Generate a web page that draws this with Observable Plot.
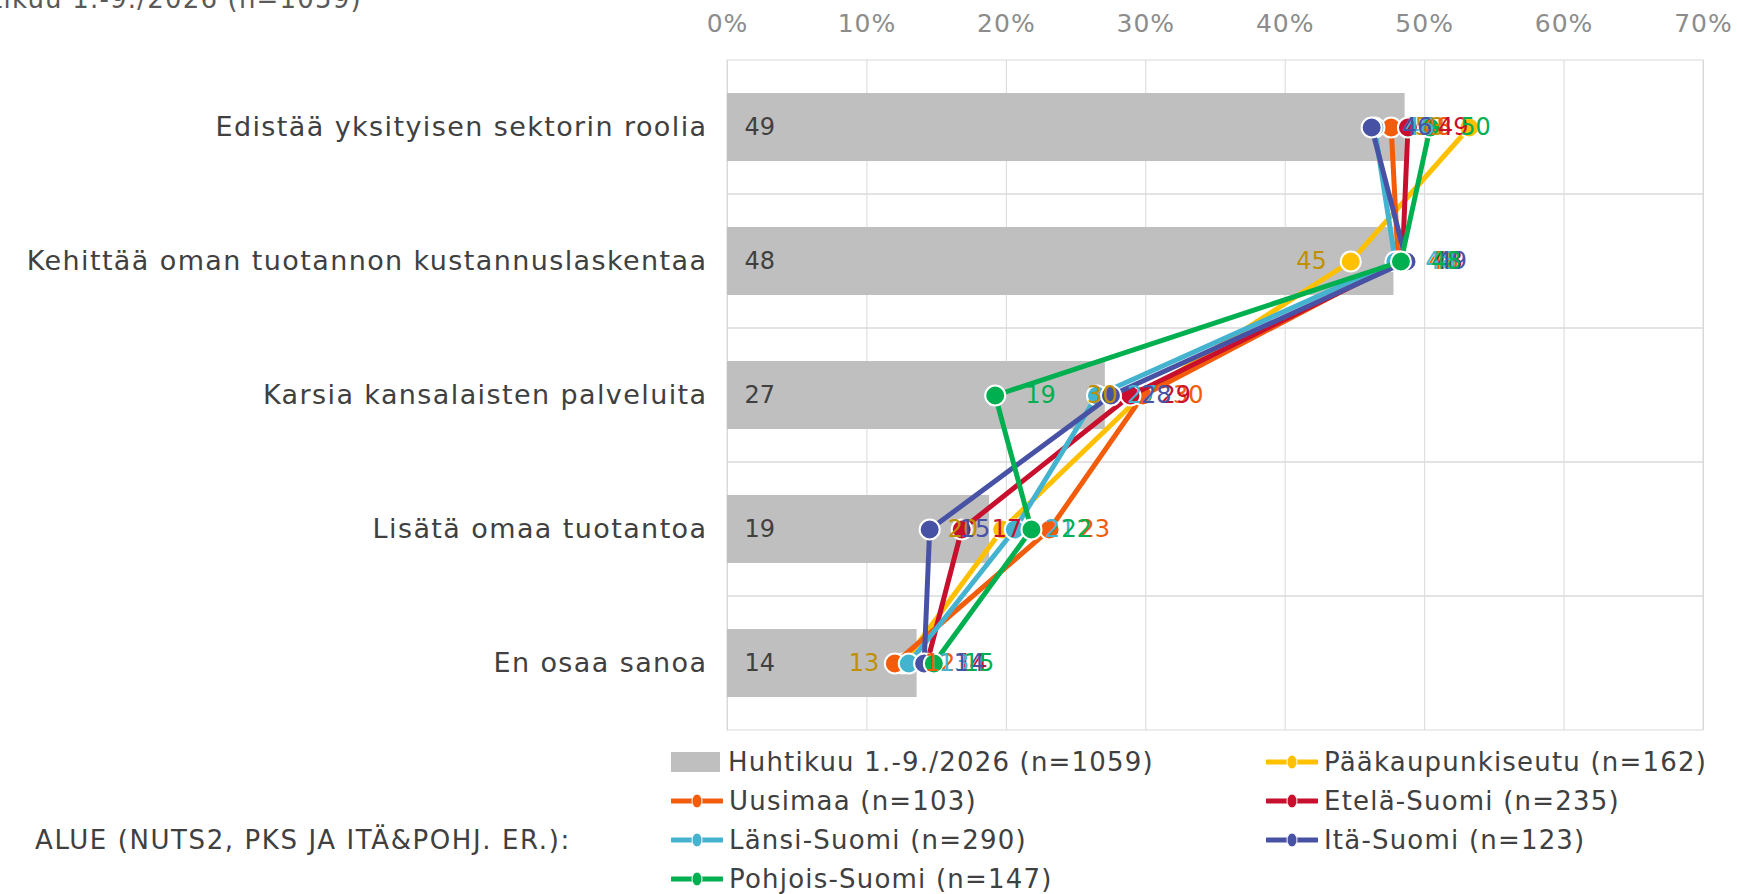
<!DOCTYPE html>
<html>
<head>
<meta charset="utf-8">
<script src="https://cdn.jsdelivr.net/npm/d3@7"></script>
<script src="https://cdn.jsdelivr.net/npm/@observablehq/plot@0.6"></script>
<style>
  html, body { margin: 0; padding: 0; background: #fff; overflow: hidden; }
  body { font-family: "DejaVu Sans", Verdana, sans-serif; }
  #wrap { position: relative; width: 1737px; height: 894px; }
  #title { position: absolute; left: -64px; top: -14px; font-size: 26px; line-height: 26px; letter-spacing: 1.2px; color: #595959; white-space: nowrap; }
  #chart { position: absolute; left: 0; top: 0; }
  .leg { position: absolute; display: flex; align-items: center; height: 39px; font-size: 26px; letter-spacing: 1.2px; color: #404040; white-space: nowrap; }
  .leg svg { flex: none; margin-right: 6px; }
  #alue { position: absolute; left: 35px; font-size: 26px; letter-spacing: 1.6px; color: #404040; white-space: nowrap; height: 39px; line-height: 39px; }
</style>
</head>
<body>
<div id="wrap">
  <div id="chart"></div>
  <div id="title"></div>
  <div id="legend"></div>
</div>
<script>
// ---- data ----
const categories = [
  "Edistää yksityisen sektorin roolia",
  "Kehittää oman tuotannon kustannuslaskentaa",
  "Karsia kansalaisten palveluita",
  "Lisätä omaa tuotantoa",
  "En osaa sanoa"
];
const totalName = "Huhtikuu 1.-9./2026 (n=1059)";
const totalValues = [48.6, 47.8, 27.1, 18.8, 13.6];

const seriesNames = [
  "Pääkaupunkiseutu (n=162)",
  "Uusimaa (n=103)",
  "Etelä-Suomi (n=235)",
  "Länsi-Suomi (n=290)",
  "Itä-Suomi (n=123)",
  "Pohjois-Suomi (n=147)"
];
const paakaupunkiseutu = [53.2, 44.7, 29.7, 19.7, 12.6];
const uusimaa          = [47.6, 48.1, 29.8, 23.1, 12.0];
const etelaSuomi       = [48.8, 48.4, 28.9, 16.8, 14.3];
const lansiSuomi       = [46.4, 47.9, 26.5, 20.6, 13.0];
const itaSuomi         = [46.2, 48.7, 27.5, 14.5, 14.1];
const pohjoisSuomi     = [50.4, 48.3, 19.2, 21.8, 14.8];
const seriesValues = [paakaupunkiseutu, uusimaa, etelaSuomi, lansiSuomi, itaSuomi, pohjoisSuomi];

const seriesColors = ["#FFC000", "#F25C0A", "#C8102E", "#44B3D0", "#4852A4", "#00B050"];
const labelColors  = ["#BF9000", "#F25C0A", "#C8102E", "#44B3D0", "#4852A4", "#00B050"];
const labelSide    = ["left", "right", "right", "right", "right", "right"];

const xTicks = [0, 10, 20, 30, 40, 50, 60, 70];
const legendTitle = "ALUE (NUTS2, PKS JA ITÄ&POHJ. ER.):";

// ---- build ----
const totalData = categories.map((c, i) => ({cat: c, v: totalValues[i]}));
const seriesData = seriesNames.map((name, s) =>
  categories.map((c, i) => ({cat: c, v: seriesValues[s][i], name}))
);

const FONT = "DejaVu Sans, Verdana, sans-serif";
const marks = [
  Plot.gridX({ticks: xTicks, stroke: "#d9d9d9", strokeOpacity: 1, strokeWidth: 1}),
  Plot.barX(categories, {x1: 0, x2: 70, y: d => d, fill: "none", stroke: "#d9d9d9", strokeWidth: 1}),
  Plot.barX(totalData, {x: "v", y: "cat", fill: "#BFBFBF", insetTop: 33, insetBottom: 33}),
  Plot.text(totalData, {x: 0, y: "cat", text: d => String(Math.round(d.v)), dx: 17, textAnchor: "start", fill: "#404040", fontSize: 24})
];
seriesData.forEach((data, s) => {
  marks.push(Plot.line(data, {x: "v", y: "cat", stroke: seriesColors[s], strokeWidth: 5, strokeLinejoin: "round"}));
  marks.push(Plot.dot(data, {x: "v", y: "cat", r: 10, fill: seriesColors[s], stroke: "white", strokeWidth: 2}));
});
seriesData.forEach((data, s) => {
  const left = labelSide[s] === "left";
  marks.push(Plot.text(data, {
    x: "v", y: "cat", text: d => String(Math.round(d.v)),
    dx: left ? -24 : 30, textAnchor: left ? "end" : "start",
    fill: labelColors[s], fontSize: 24
  }));
});
marks.push(Plot.axisX({anchor: "top", ticks: xTicks, tickFormat: d => d + "%", tickSize: 0, tickPadding: 29, fontSize: 25, color: "#8c8c8c", label: null}));
marks.push(Plot.axisY({tickSize: 0, tickPadding: 20, fontSize: 27, color: "#404040", label: null}));

const chart = Plot.plot({
  width: 1737,
  height: 745,
  marginTop: 60,
  marginBottom: 15,
  marginLeft: 727,
  marginRight: 34,
  style: {fontFamily: FONT, fontSize: "24px", background: "transparent", overflow: "visible"},
  x: {domain: [0, 70], axis: null},
  y: {domain: categories, type: "band", paddingInner: 0, paddingOuter: 0, axis: null},
  marks
});
d3.select(chart).selectAll('g[aria-label="y-axis tick label"] text').attr("letter-spacing", "1.4px");
d3.select(chart).selectAll('g[aria-label="x-axis tick label"] text').attr("letter-spacing", "1px");
document.getElementById("chart").appendChild(chart);
document.getElementById("title").textContent = totalName;

// ---- legend ----
const legend = document.getElementById("legend");
const rowY = [762, 801, 840, 879];
const items = [{name: totalName, type: "bar", color: "#BFBFBF"}]
  .concat(seriesNames.map((n, i) => ({name: n, type: "line", color: seriesColors[i]})));
items.forEach((it, i) => {
  const col = i % 2, row = Math.floor(i / 2);
  const div = document.createElement("div");
  div.className = "leg";
  div.style.left = (col === 0 ? 671 : 1266) + "px";
  div.style.top = (rowY[row] - 19.5) + "px";
  let sym;
  if (it.type === "bar") {
    sym = `<svg width="51" height="22"><rect x="0" y="1" width="49" height="20" fill="${it.color}"/></svg>`;
  } else {
    sym = `<svg width="52" height="22"><line x1="1" y1="11" x2="51" y2="11" stroke="${it.color}" stroke-width="5" stroke-linecap="round"/><ellipse cx="26" cy="11" rx="5" ry="7" fill="${it.color}" stroke="white" stroke-width="1"/></svg>`;
  }
  div.innerHTML = sym + `<span>${it.name}</span>`;
  legend.appendChild(div);
});
const alue = document.createElement("div");
alue.id = "alue";
alue.style.top = (rowY[2] - 19.5) + "px";
alue.textContent = legendTitle;
legend.appendChild(alue);
</script>
</body>
</html>
